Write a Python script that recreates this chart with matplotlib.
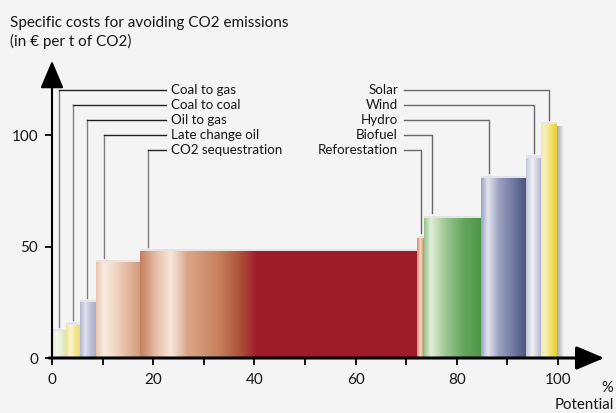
import matplotlib
matplotlib.use('Agg')
import matplotlib.pyplot as plt
import numpy as np
from matplotlib.colors import LinearSegmentedColormap
from matplotlib.patches import Rectangle

plt.rcParams['font.family'] = ['Lato', 'DejaVu Sans']

# abatement measures in order along the potential axis
categories = ["Coal to gas", "Coal to coal", "Oil to gas", "Late change oil",
              "CO2 sequestration", "Reforestation", "Biofuel", "Hydro",
              "Wind", "Solar"]
potential = [2.7, 2.8, 3.2, 8.7, 54.8, 1.4, 11.2, 8.9, 3.0, 3.1]   # % of total
costs = [12, 15, 25, 43, 48, 54, 63, 81, 90, 105]                 # EUR per t CO2

x_ticks = list(range(0, 101, 10))
x_ticklabels = ["0", "", "20", "", "40", "", "60", "", "80", "", "100"]
y_ticks = [0, 50, 100]
y_ticklabels = ["0", "50", "100"]

# cylinder-like shading, colour stops from left to right edge of each bar
shades = {
    "Coal to gas": [(0, '#e2eacc'), (0.35, '#f4f7ea'), (0.7, '#e6edd4'), (1, '#d9e3c2')],
    "Coal to coal": [(0, '#f1e38a'), (0.3, '#fbf6d2'), (0.65, '#f3e690'), (1, '#ead66a')],
    "Oil to gas": [(0, '#b2b5ce'), (0.3, '#e2e3ee'), (0.65, '#bcbfd5'), (1, '#a4a8c4')],
    "Late change oil": [(0, '#eac4ac'), (0.18, '#f8ece2'), (0.5, '#efcfbb'),
                        (0.85, '#daa88c'), (1, '#d09878')],
    "CO2 sequestration": [(0, '#c5805f'), (0.06, '#e8c2ab'), (0.11, '#f6e6da'),
                          (0.17, '#dba686'), (0.28, '#c6825f'), (0.36, '#ad513a'),
                          (0.42, '#9e1b2a'), (1, '#9e1b2a')],
    "Reforestation": [(0, '#d08868'), (0.45, '#f6dcc6'), (1, '#c06848')],
    "Biofuel": [(0, '#98c28a'), (0.12, '#e2efdb'), (0.35, '#a4ca98'),
                (0.7, '#66a65e'), (1, '#4d9647')],
    "Hydro": [(0, '#9aa0c2'), (0.15, '#e4e5f0'), (0.4, '#9a9fbe'),
              (0.75, '#6a739c'), (1, '#48557e')],
    "Wind": [(0, '#c2c4da'), (0.4, '#f0f0f6'), (0.75, '#cbcde0'), (1, '#a8abc8')],
    "Solar": [(0, '#efe6b0'), (0.25, '#f8f0c0'), (0.6, '#f2e272'), (1, '#e8cc30')],
}

bg = '#f4f4f4'
txt = '#151515'
fig = plt.figure(figsize=(6.16, 4.13), dpi=100, facecolor=bg)
ax = fig.add_axes([52 / 616, 55 / 413, 555 / 616, 300 / 413])
ax.set_facecolor(bg)

lefts = np.concatenate([[0], np.cumsum(potential)[:-1]])
grad = np.linspace(0, 1, 256)[None, :]

for name, x0, w, h in zip(categories, lefts, potential, costs):
    cmap = LinearSegmentedColormap.from_list(name, shades[name])
    ax.imshow(grad, cmap=cmap, extent=[x0, x0 + w, 0, h], aspect='auto',
              interpolation='bilinear', zorder=2)
    # pale rim on top of each bar
    ax.add_patch(Rectangle((x0, h), w, 1.0, facecolor='#e4e4e8',
                           edgecolor='none', zorder=2))

# soft shadow to the right of the last bar
x_end = lefts[-1] + potential[-1]
shadow = LinearSegmentedColormap.from_list('shadow', ['#a8a8a8', bg])
ax.imshow(grad, cmap=shadow, extent=[x_end, x_end + 1.2, 0, costs[-1] - 1],
          aspect='auto', interpolation='bilinear', zorder=1)

# leader lines with labels
levels = [120.6 - 6.75 * i for i in range(5)]
for i in range(5):
    xa = lefts[i] + min(potential[i] / 2, 1.5)
    lvl = levels[i]
    ax.plot([xa, xa], [costs[i] + 2, lvl], color='#808080', lw=1.0,
            zorder=3, clip_on=False)
    ax.plot([xa, 22.5], [lvl, lvl], color='#222222', lw=1.0,
            zorder=3, clip_on=False, solid_capstyle='projecting')
    ax.text(23.6, lvl, categories[i], ha='left', va='center', fontsize=9.6,
            color=txt)

for i in range(5, 10):
    xa = lefts[i] + min(potential[i] / 2, 1.5)
    lvl = levels[9 - i]
    ax.plot([69.6, xa, xa], [lvl, lvl, costs[i] + 2], color='#6a6a6a',
            lw=1.0, zorder=3, clip_on=False)
    ax.text(68.4, lvl, categories[i], ha='right', va='center', fontsize=9.6,
            color=txt)

ax.set_xlim(0, 109.7)
ax.set_ylim(0, 134.8)
for s in ax.spines.values():
    s.set_visible(False)

# axes drawn as arrows
ax.annotate('', xy=(109.7, 0), xytext=(-1.1, 0),
            arrowprops=dict(arrowstyle='-|>,head_length=0.9,head_width=0.38',
                            color='black', lw=2.2, mutation_scale=19),
            annotation_clip=False, zorder=5)
ax.annotate('', xy=(0, 134.8), xytext=(0, -0.5),
            arrowprops=dict(arrowstyle='-|>,head_length=0.9,head_width=0.38',
                            color='black', lw=1.5, mutation_scale=19),
            annotation_clip=False, zorder=5)

ax.set_xticks(x_ticks)
ax.set_xticklabels(x_ticklabels)
ax.set_yticks(y_ticks)
ax.set_yticklabels(y_ticklabels)
ax.tick_params(axis='x', direction='out', length=5, width=1.3, pad=6,
               labelsize=11, colors='black')
ax.tick_params(axis='y', direction='out', length=5, width=1.3, pad=5,
               labelsize=11, colors='black')
for lab in ax.get_xticklabels() + ax.get_yticklabels():
    lab.set_color(txt)

fig.text(10 / 616, 1 - 27 / 413, "Specific costs for avoiding CO2 emissions",
         ha='left', va='baseline', fontsize=11, color=txt)
fig.text(10 / 616, 1 - 46 / 413, "(in € per t of CO2)",
         ha='left', va='baseline', fontsize=11, color=txt)
fig.text(613 / 616, 1 - 392 / 413, "%", ha='right', va='baseline',
         fontsize=10.5, color=txt)
fig.text(614 / 616, 1 - 409 / 413, "Potential", ha='right', va='baseline',
         fontsize=10.8, color=txt)

fig.savefig('out.png', dpi=100, facecolor=bg)
